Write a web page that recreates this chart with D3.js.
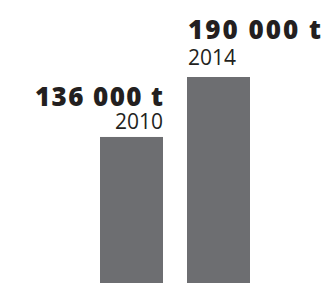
<!DOCTYPE html>
<html>
<head>
<meta charset="utf-8">
<script src="https://cdn.jsdelivr.net/npm/d3@7"></script>
<style>
  body { margin: 0; background: #fff; }
  svg { display: block; }
</style>
</head>
<body>
<div id="chart"></div>
<script>
var years = ["2010", "2014"];
var values = [136000, 190000];
var valueLabels = ["136 000 t", "190 000 t"];

var width = 324, height = 283;

var svg = d3.select("#chart").append("svg")
  .attr("width", width)
  .attr("height", height);

var x = d3.scaleBand()
  .domain(years)
  .range([100, 250])
  .paddingInner(0.276)
  .paddingOuter(0);

var y = d3.scaleLinear()
  .domain([0, 190000])
  .range([288, 77]);

svg.selectAll("rect.bar")
  .data(years)
  .enter().append("rect")
  .attr("class", "bar")
  .attr("x", d => x(d))
  .attr("y", (d, i) => y(values[i]))
  .attr("width", x.bandwidth())
  .attr("height", (d, i) => y(0) - y(values[i]))
  .attr("fill", "#6d6e71");

// first label sits right-aligned over its bar, second left-aligned
var labels = svg.selectAll("g.lab")
  .data(years)
  .enter().append("g")
  .attr("class", "lab")
  .attr("transform", (d, i) => {
    var lx = i == 0 ? x(d) + x.bandwidth() : x(d) + 1;
    return `translate(${lx},${y(values[i])})`;
  });

labels.append("text")
  .attr("y", (d, i) => i == 0 ? -8 : -12)
  .attr("text-anchor", (d, i) => i == 0 ? "end" : "start")
  .style("font-family", "'Open Sans', sans-serif")
  .style("font-size", "21px")
  .style("fill", "#231f20")
  .text(d => d);

labels.append("text")
  .attr("y", (d, i) => i == 0 ? -31 : -38)
  .attr("text-anchor", (d, i) => i == 0 ? "end" : "start")
  .attr("textLength", (d, i) => i == 0 ? 128 : 133)
  .attr("lengthAdjust", "spacing")
  .style("font-family", "'Open Sans', sans-serif")
  .style("font-weight", "800")
  .style("font-size", "26px")
  .style("fill", "#231f20")
  .text((d, i) => valueLabels[i]);
</script>
</body>
</html>
